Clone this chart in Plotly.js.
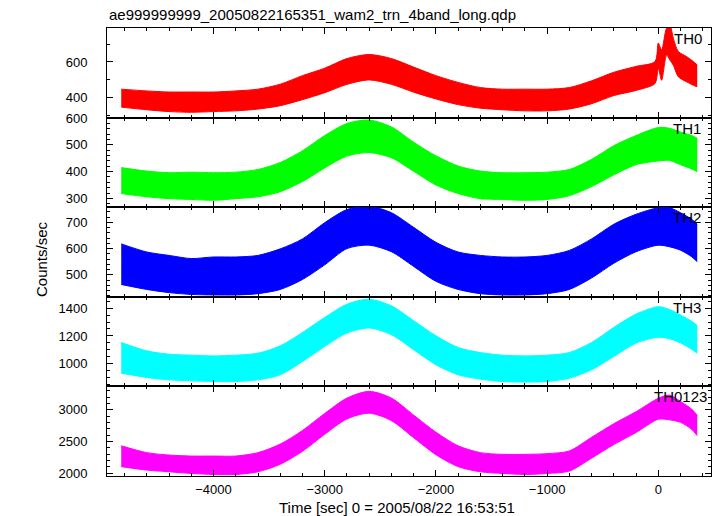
<!DOCTYPE html>
<html>
<head>
<meta charset="utf-8">
<script src="https://cdn.plot.ly/plotly-3.0.1.min.js"></script>
<style>html,body{margin:0;padding:0;background:#fff}#chart{width:717px;height:516px}</style>
</head>
<body>
<div id="chart"></div>
<script>
// ---- data (envelopes of the light curves) ----
const CHART_TITLE = "ae999999999_20050822165351_wam2_trn_4band_long.qdp";
const X_TITLE = "Time [sec] 0 = 2005/08/22 16:53:51";
const Y_TITLE = "Counts/sec";
const PANEL_NAMES = ["TH0", "TH1", "TH2", "TH3", "TH0123"];

const TIME_TH0 = [-4830,-4600,-4400,-4200,-4000,-3800,-3600,-3400,-3200,-3000,-2800,-2600,-2400,-2200,-2000,-1800,-1600,-1400,-1200,-1000,-800,-600,-400,-200,-30,0,30,75,105,135,180,255,315,350];
const TH0_HIGH = [447,437,431,431,431,437,447,475,523,565,619,642,619,571,523,485,456,447,447,447,456,494,542,575,602,706,668,791,805,734,659,630,602,583];
const TH0_LOW  = [346,331,321,317,321,325,335,354,388,427,474,499,474,430,392,360,340,331,325,325,335,365,411,440,479,563,497,639,610,582,517,488,469,460];

const TIME = [-4830,-4600,-4400,-4200,-4000,-3800,-3600,-3400,-3200,-3000,-2800,-2600,-2400,-2200,-2000,-1800,-1600,-1400,-1200,-1000,-800,-600,-400,-200,0,100,200,300,350];
const TH1_HIGH = [415,402,396,398,396,398,408,434,478,535,580,593,567,510,459,421,402,396,396,398,408,446,497,535,565,562,548,535,525];
const TH1_LOW  = [318,306,299,296,293,299,306,325,363,414,458,471,452,401,350,318,299,296,293,296,310,344,388,426,440,442,426,410,400];
const TH2_HIGH = [618,587,574,562,568,568,574,599,637,699,749,762,737,681,624,587,574,568,568,574,593,637,693,731,756,756,737,712,693];
const TH2_LOW  = [463,444,432,425,423,423,428,444,482,538,600,613,588,532,475,444,428,423,423,428,444,488,544,588,613,607,594,569,550];
const TH3_HIGH = [1153,1093,1069,1062,1057,1062,1076,1129,1225,1333,1428,1464,1416,1309,1201,1117,1081,1062,1057,1062,1081,1153,1261,1357,1410,1390,1350,1305,1275];
const TH3_LOW  = [933,902,885,878,873,873,885,921,1017,1125,1221,1257,1209,1101,993,921,890,873,869,873,897,957,1053,1149,1190,1180,1150,1105,1075];
const TH0123_HIGH = [2430,2322,2284,2268,2268,2268,2322,2457,2672,2941,3183,3290,3183,2914,2645,2430,2322,2295,2295,2306,2349,2564,2779,2968,3180,3230,3130,3010,2910];
const TH0123_LOW  = [2101,2047,2020,1993,1977,1977,2020,2138,2343,2612,2854,2945,2827,2558,2289,2101,2020,1993,1977,1993,2031,2235,2450,2639,2850,2840,2800,2690,2590];

// ---- styling ----
const panels = [
  {t: TIME_TH0, hi: TH0_HIGH, lo: TH0_LOW, color: "#ff0000", range: [287, 791], dtick: 200, minor: 100, labX: 704},
  {t: TIME, hi: TH1_HIGH, lo: TH1_LOW, color: "#00ff00", range: [267, 602], dtick: 100, minor: 20, labX: 703},
  {t: TIME, hi: TH2_HIGH, lo: TH2_LOW, color: "#0000ff", range: [416, 758], dtick: 100, minor: 20, labX: 703},
  {t: TIME, hi: TH3_HIGH, lo: TH3_LOW, color: "#00ffff", range: [838, 1481], dtick: 200, minor: 50, labX: 703},
  {t: TIME, hi: TH0123_HIGH, lo: TH0123_LOW, color: "#ff00ff", range: [1953, 3368], dtick: 500, minor: 100, labX: 709}
];

const FONT = "Liberation Sans, Arial, Helvetica, sans-serif";
const L = 107, R = 6, T = 28, B = 40, W = 717, H = 516;
const plotH = H - T - B, plotW = W - L - R;
const n = panels.length;

const traces = [];
const layout = {
  width: W, height: H,
  margin: {l: L, r: R, t: T, b: B, pad: 0},
  paper_bgcolor: "#ffffff", plot_bgcolor: "#ffffff",
  showlegend: false,
  font: {family: FONT, color: "#000", size: 12},
  annotations: []
};

panels.forEach((p, i) => {
  const k = i + 1;
  const xa = "x" + k, ya = "y" + k;
  traces.push({x: p.t, y: p.lo, xaxis: xa, yaxis: ya, type: "scatter", mode: "lines",
    line: {color: p.color, width: 1, shape: "spline", smoothing: 0.8}, hoverinfo: "skip", cliponaxis: true});
  traces.push({x: p.t, y: p.hi, xaxis: xa, yaxis: ya, type: "scatter", mode: "lines",
    line: {color: p.color, width: 1, shape: "spline", smoothing: 0.8}, fill: "tonexty", fillcolor: p.color,
    hoverinfo: "skip", cliponaxis: true});

  const top = 1 - i / n, bot = 1 - (i + 1) / n;
  const xaxis = {
    anchor: ya, domain: [0, 1], range: [-4958, 474],
    showline: true, linecolor: "#000", linewidth: 1, mirror: "allticks",
    ticks: "inside", ticklen: 6, tickcolor: "#000", tickwidth: 1, dtick: 1000, tick0: 0,
    minor: {dtick: 200, ticks: "inside", ticklen: 3, tickcolor: "#000"},
    showgrid: false, zeroline: false,
    showticklabels: k === n, tickfont: {size: 13, family: FONT, color: "#000"},
    ticklabelstandoff: 1
  };
  if (k > 1) xaxis.matches = "x";
  layout["xaxis" + k] = xaxis;
  layout["yaxis" + k] = {
    anchor: xa, domain: [bot, top], range: p.range,
    showline: true, linecolor: "#000", linewidth: 1, mirror: "allticks",
    ticks: "inside", ticklen: 6, tickcolor: "#000", tickwidth: 1, dtick: p.dtick, tick0: 0,
    minor: {dtick: p.minor, ticks: "inside", ticklen: 3, tickcolor: "#000"},
    showgrid: false, zeroline: false,
    tickfont: {size: 13, family: FONT, color: "#000"},
    ticklabelstandoff: 16
  };
  layout.annotations.push({
    text: PANEL_NAMES[i], xref: "paper", yref: "paper",
    x: (p.labX - L) / plotW, y: top - 10.5 / plotH,
    xanchor: "right", yanchor: "middle", showarrow: false,
    font: {size: 15, family: FONT, color: "#000"}
  });
});

layout.annotations.push({
  text: CHART_TITLE, xref: "paper", yref: "paper", x: 0, y: 1 + (T - 14.5) / plotH,
  xanchor: "left", yanchor: "middle", showarrow: false, font: {size: 15, family: FONT, color: "#000"}
});
layout.annotations.push({
  text: X_TITLE, xref: "paper", yref: "paper", x: (397 - L) / plotW, y: 1 - (507 - T) / plotH,
  xanchor: "center", yanchor: "middle", showarrow: false, font: {size: 15, family: FONT, color: "#000"}
});
layout.annotations.push({
  text: Y_TITLE, xref: "paper", yref: "paper", x: (41 - L) / plotW, y: 1 - (259 - T) / plotH,
  xanchor: "center", yanchor: "middle", textangle: -90, showarrow: false,
  font: {size: 15, family: FONT, color: "#000"}
});

Plotly.newPlot("chart", traces, layout, {staticPlot: true, displayModeBar: false});
</script>
</body>
</html>
